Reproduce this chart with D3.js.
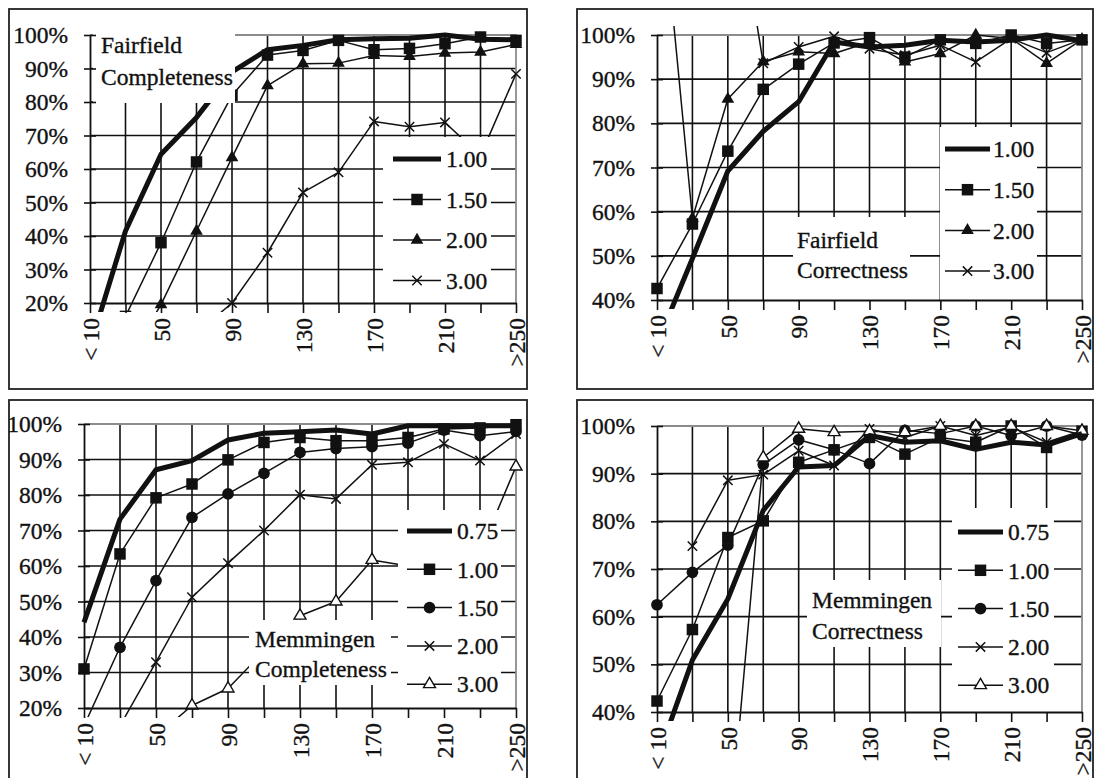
<!DOCTYPE html>
<html>
<head>
<meta charset="utf-8">
<script src="https://cdn.jsdelivr.net/npm/d3@7"></script>
<style>
  body { margin: 0; background: #fff; }
  svg text { font-family: "Liberation Serif", "Times New Roman", serif; fill: #111; stroke: #111; stroke-width: 0.35px; }
</style>
</head>
<body>
<svg id="chart" width="1096" height="778"></svg>
<script>
// Size classes along the x axis
const categories = ["< 10", "30", "50", "70", "90", "110", "130", "150", "170", "190", "210", "230", ">250"];
// Only every second class gets a printed label
const tickLabels = ["< 10", "", "50", "", "90", "", "130", "", "170", "", "210", "", ">250"];

// Threshold settings per study area
const fairfieldNames = ["1.00", "1.50", "2.00", "3.00"];
const memmingenNames = ["0.75", "1.00", "1.50", "2.00", "3.00"];

// Fairfield completeness (%)
const ffComp100 = [7, 41.5, 64.4, 75.4, 89, 95.6, 96.9, 98.6, 98.9, 99, 100, 98.7, 98.6];
const ffComp150 = [3, 16, 38, 62.1, 82, 94, 95.4, 98.4, 95.6, 96, 97.4, 99.4, 98.4];
const ffComp200 = [null, 2, 19.5, 41.5, 63.4, 84.9, 91.4, 91.6, 93.9, 93.6, 94.6, 94.9, 97.2];
const ffComp300 = [null, null, null, 11, 20, 35, 53, 59, 74.2, 72.6, 73.9, 64, 88.4];

// Fairfield correctness (%)
const ffCorr100 = [30, 49.4, 69.2, 78.2, 84.9, 98.4, 97.3, 97.7, 98.8, 98.4, 98.8, 100, 98.7];
const ffCorr150 = [42.6, 57.2, 73.7, 87.7, 93.4, 98.2, 99.4, 95, 98.9, 98.1, 100, 98.1, 98.9];
const ffCorr200 = [142, 58.5, 85.5, 94, 96.2, 95.8, 98.4, 93.9, 95.8, 100, 99.2, 93.6, 99];
const ffCorr300 = [null, null, 143, 93.6, 97.3, 99.7, 96.9, 95.4, 97.7, 93.9, 99.2, 96, 99];

// Memmingen completeness (%)
const mmComp075 = [44.1, 73.2, 87.1, 89.7, 95.5, 97.4, 97.8, 98.3, 97.2, 99.5, 99.5, 99.5, 99.5];
const mmComp100 = [31, 63.4, 79.2, 83.1, 89.9, 94.8, 96.2, 95.3, 95.3, 96.2, 98.6, 98.9, 99.8];
const mmComp150 = [15, 37.1, 55.9, 73.7, 80.3, 86.1, 92, 93.1, 93.6, 94.6, 98.3, 96.7, 97.9];
const mmComp200 = [null, 15, 32.9, 51.2, 60.8, 70, 80.1, 78.9, 88.5, 89.2, 94.4, 89.7, 97.2];
const mmComp300 = [null, null, 12, 20.7, 25.5, 36, 46, 50, 61.7, 60, 62, 64, 88];

// Memmingen correctness (%)
const mmCorr075 = [30, 50.9, 63.7, 82.3, 91.4, 91.7, 98, 96.6, 96.9, 95.1, 96.6, 96, 98.4];
const mmCorr100 = [42.3, 57.3, 76.6, 80.1, 92.4, 95, 97.6, 94.1, 97.6, 96.6, 100, 95.5, 98.9];
const mmCorr150 = [62.5, 69.3, 75, 91.9, 97.1, 95, 92.1, 99.1, 98.4, 100, 98, 100, 98.1];
const mmCorr200 = [null, 74.8, 88.6, 89.8, 94.8, 91.7, 99.4, 97.6, 100, 98, 99.8, 96.6, 99];
const mmCorr300 = [null, null, 10, 93.4, 99.4, 98.7, 98.9, 98.7, 100, 100, 100, 100, 99];

// Y tick values (%)
const ticksFrom20 = [20, 30, 40, 50, 60, 70, 80, 90, 100];
const ticksFrom40 = [40, 50, 60, 70, 80, 90, 100];

// Mark style for each series, in legend order
const fairfieldMarks = ["thick", "square", "triangle", "times"];
const memmingenMarks = ["thick", "square", "circle", "times", "openTriangle"];

const panels = [
  {
    names: fairfieldNames, marks: fairfieldMarks,
    series: [ffComp100, ffComp150, ffComp200, ffComp300],
    ticks: ticksFrom20, title: ["Fairfield", "Completeness"],
    box: [9, 9, 518, 380], plot: { x0: 90, x1: 516, y0: 35, y1: 303 },
    titleBox: { x: 93, y: 27, w: 142, h: 76, tx: 101, ty: [53, 85] },
    legend: { x: 383, y: 137, w: 108, h: 166, sx0: 393, sx1: 441, tx: 446, ey: 159, step: 40.5 }
  },
  {
    names: fairfieldNames, marks: fairfieldMarks,
    series: [ffCorr100, ffCorr150, ffCorr200, ffCorr300],
    ticks: ticksFrom40, title: ["Fairfield", "Correctness"],
    box: [577, 9, 516, 380], plot: { x0: 657, x1: 1082, y0: 35, y1: 300 },
    titleBox: { x: 793, y: 217, w: 117, h: 83, tx: 797, ty: [248, 278] },
    legend: { x: 940, y: 127, w: 97, h: 173, sx0: 945, sx1: 990, tx: 993, ey: 149, step: 40.7 }
  },
  {
    names: memmingenNames, marks: memmingenMarks,
    series: [mmComp075, mmComp100, mmComp150, mmComp200, mmComp300],
    ticks: ticksFrom20, title: ["Memmingen", "Completeness"],
    box: [9, 400, 518, 400], plot: { x0: 84, x1: 516, y0: 424, y1: 708 },
    titleBox: { x: 249, y: 620, w: 142, h: 65, tx: 255, ty: [647, 677] },
    legend: { x: 398, y: 510, w: 103, h: 198, sx0: 407, sx1: 452, tx: 457, ey: 531, step: 38.3 }
  },
  {
    names: memmingenNames, marks: memmingenMarks,
    series: [mmCorr075, mmCorr100, mmCorr150, mmCorr200, mmCorr300],
    ticks: ticksFrom40, title: ["Memmingen", "Correctness"],
    box: [577, 400, 516, 400], plot: { x0: 657, x1: 1082, y0: 426, y1: 712 },
    titleBox: { x: 807, y: 580, w: 134, h: 67, tx: 812, ty: [608, 639] },
    legend: { x: 952, y: 508, w: 102, h: 204, sx0: 958, sx1: 1003, tx: 1008, ey: 532, step: 38.3 }
  }
];

const INK = "#111";
const FONT = 23.5;
const GRID_W = 1.6;
const svg = d3.select("#chart");

// Draw one marker symbol centred at (cx, cy)
function drawMark(g, kind, cx, cy) {
  if (kind === "square") {
    g.append("path").attr("d", d3.symbol(d3.symbolSquare, 132)())
      .attr("transform", `translate(${cx},${cy})`).attr("fill", INK);
  } else if (kind === "triangle") {
    g.append("path").attr("d", d3.symbol(d3.symbolTriangle, 70)())
      .attr("transform", `translate(${cx},${cy})`).attr("fill", INK);
  } else if (kind === "circle") {
    g.append("path").attr("d", d3.symbol(d3.symbolCircle, 108)())
      .attr("transform", `translate(${cx},${cy})`).attr("fill", INK);
  } else if (kind === "openTriangle") {
    g.append("path").attr("d", d3.symbol(d3.symbolTriangle, 62)())
      .attr("transform", `translate(${cx},${cy})`)
      .attr("fill", "#fff").attr("stroke", INK).attr("stroke-width", 1.4);
  } else if (kind === "times") {
    g.append("path").attr("d", "M-4.7,-4.7L4.7,4.7M-4.7,4.7L4.7,-4.7")
      .attr("transform", `translate(${cx},${cy})`)
      .attr("fill", "none").attr("stroke", INK).attr("stroke-width", 1.5);
  }
}

panels.forEach((p, pi) => {
  const { x0, x1, y0, y1 } = p.plot;
  const g = svg.append("g");

  // Outer frame
  g.append("rect")
    .attr("x", p.box[0]).attr("y", p.box[1]).attr("width", p.box[2]).attr("height", p.box[3])
    .attr("fill", "#fff").attr("stroke", "#222").attr("stroke-width", 1.8);

  const x = d3.scalePoint().domain(categories).range([x0, x1]);
  const y = d3.scaleLinear().domain([p.ticks[0], 100]).range([y1, y0]);

  // Horizontal gridlines
  g.append("g").selectAll("line")
    .data(p.ticks.slice(1, -1))
    .join("line")
    .attr("x1", x0).attr("x2", x1)
    .attr("y1", d => y(d)).attr("y2", d => y(d))
    .attr("stroke", INK).attr("stroke-width", GRID_W);

  // Vertical gridlines
  g.append("g").selectAll("line")
    .data(categories.slice(1, -1))
    .join("line")
    .attr("x1", d => x(d)).attr("x2", d => x(d))
    .attr("y1", y0).attr("y2", y1)
    .attr("stroke", INK).attr("stroke-width", GRID_W);

  // Plot-area border on top and right
  g.append("path")
    .attr("d", `M${x0},${y(100)}H${x(categories[categories.length - 1])}V${y1}`)
    .attr("fill", "none").attr("stroke", "#8c8c8c").attr("stroke-width", 1.8);

  // Series, clipped to the plot area
  const clipId = "clip" + pi;
  svg.append("defs").append("clipPath").attr("id", clipId)
    .append("rect").attr("x", x0 - 12).attr("y", y0 - 9)
    .attr("width", x1 - x0 + 26).attr("height", y1 - y0 + 18);
  const sg = g.append("g").attr("clip-path", `url(#${clipId})`);

  const line = d3.line()
    .defined(d => d.v !== null)
    .x(d => x(d.c)).y(d => y(d.v));

  // Draw thin series first, the heavy one last so it sits on top
  const order = p.series.map((s, i) => i).slice(1).concat([0]);
  order.forEach(i => {
    const pts = categories.map((c, k) => ({ c, v: p.series[i][k] }));
    const thick = p.marks[i] === "thick";
    sg.append("path").datum(pts)
      .attr("d", line)
      .attr("fill", "none").attr("stroke", INK)
      .attr("stroke-width", thick ? 5 : 1.5)
      .attr("stroke-linejoin", "round");
    if (!thick) {
      const mg = sg.append("g");
      pts.filter(d => d.v !== null).forEach(d => drawMark(mg, p.marks[i], x(d.c), y(d.v)));
    }
  });

  // Chart title block
  const tb = p.titleBox;
  g.append("rect").attr("x", tb.x).attr("y", tb.y).attr("width", tb.w).attr("height", tb.h).attr("fill", "#fff");
  p.title.forEach((t, k) => {
    g.append("text").attr("x", tb.tx).attr("y", tb.ty[k]).attr("font-size", FONT).text(t);
  });

  // Legend
  const L = p.legend;
  g.append("rect").attr("x", L.x).attr("y", L.y).attr("width", L.w).attr("height", L.h).attr("fill", "#fff");
  p.names.forEach((n, i) => {
    const cy = L.ey + i * L.step;
    const thick = p.marks[i] === "thick";
    g.append("line").attr("x1", L.sx0).attr("x2", L.sx1).attr("y1", cy).attr("y2", cy)
      .attr("stroke", INK).attr("stroke-width", thick ? 5 : 1.5);
    if (!thick) drawMark(g, p.marks[i], (L.sx0 + L.sx1) / 2, cy);
    g.append("text").attr("x", L.tx).attr("y", cy).attr("dy", "0.35em")
      .attr("font-size", FONT).text(n);
  });

  // Y axis with crossing tick marks
  const yAxis = g.append("g").attr("transform", `translate(${x0},0)`)
    .call(d3.axisLeft(y).tickValues(p.ticks).tickFormat(d => d + "%")
      .tickSize(6).tickSizeOuter(0).tickPadding(16));
  yAxis.select(".domain").attr("stroke", INK).attr("stroke-width", 1.8);
  yAxis.selectAll(".tick line").attr("x1", 6).attr("stroke", INK).attr("stroke-width", GRID_W);
  yAxis.selectAll(".tick text").attr("font-size", FONT).attr("fill", INK);

  // X axis with rotated category labels
  const xAxis = g.append("g").attr("transform", `translate(0,${y1})`)
    .call(d3.axisBottom(x).tickSize(10).tickSizeOuter(0)
      .tickFormat((d, i) => tickLabels[i]));
  xAxis.select(".domain").attr("stroke", INK).attr("stroke-width", 1.8);
  xAxis.selectAll(".tick line").attr("stroke", INK).attr("stroke-width", GRID_W);
  xAxis.selectAll(".tick text")
    .attr("font-size", FONT).attr("fill", INK)
    .attr("transform", "rotate(-90)")
    .attr("x", -15).attr("y", 0).attr("dy", "0.35em")
    .style("text-anchor", "end");
});
</script>
</body>
</html>
